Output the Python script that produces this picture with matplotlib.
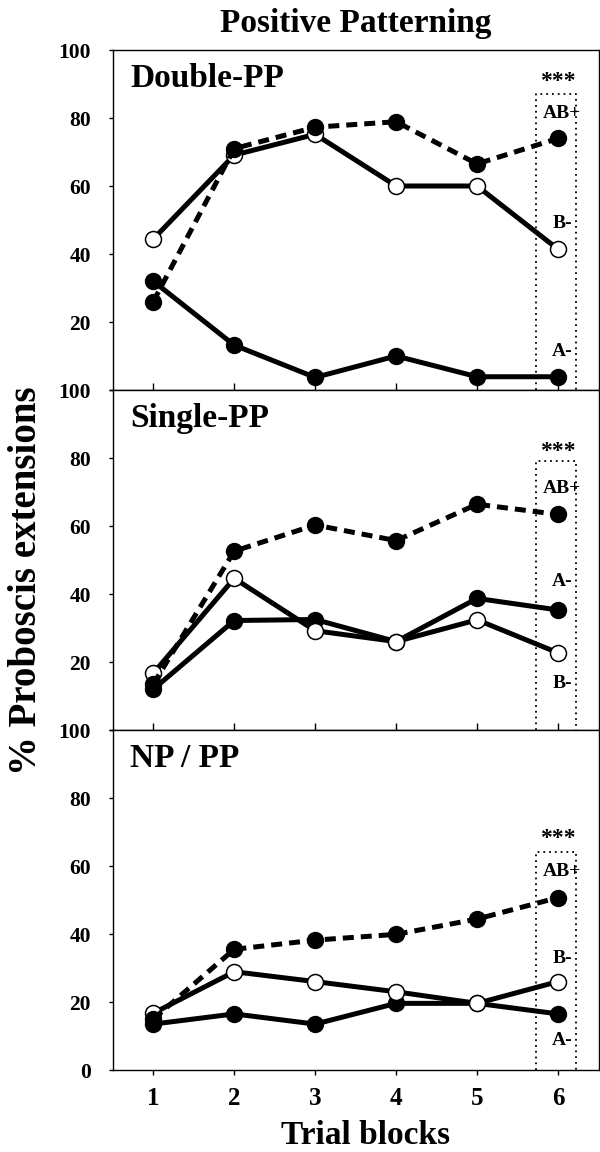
import matplotlib
matplotlib.use("Agg")
import matplotlib.pyplot as plt

plt.rcParams['font.family'] = ['Liberation Serif', 'DejaVu Serif']
plt.rcParams['font.weight'] = 'bold'

trials = [1, 2, 3, 4, 5, 6]
panels = ["Double-PP", "Single-PP", "NP / PP"]

# AB+ (filled, dashed), B- (open, solid), A- (filled, solid)
ab_plus = [
    [26, 71, 77.3, 78.9, 66.5, 74.0],
    [13.5, 52.6, 60.3, 55.7, 66.4, 63.4],
    [15, 35.5, 38.2, 39.9, 44.4, 50.7],
]
b_minus = [
    [44.4, 69.1, 75.2, 60, 60, 41.4],
    [16.7, 44.6, 29.2, 26, 32.4, 22.7],
    [16.7, 28.9, 26, 23, 19.6, 26],
]
a_minus = [
    [32, 13.2, 3.7, 10, 3.9, 3.9],
    [12, 32.2, 32.5, 26, 38.7, 35.3],
    [13.5, 16.5, 13.5, 19.6, 19.6, 16.5],
]

# label positions (y values) for annotations at block 6
stars_y = [90.7, 81.9, 68.1]
box_top = [87, 79, 64]
abp_label_y = [81.4, 71.1, 58.3]
bm_label_y = [49, 13.7, 32.8]
am_label_y = [11.3, 43.6, 8.8]

fig = plt.figure(figsize=(6, 11.52), dpi=100)
left, width = 0.188, 0.8095
h = 340 / 1152
bottoms = [1 - 390 / 1152, 1 - 730 / 1152, 1 - 1070 / 1152]

ms = 11.5
lw = 3.6
for i in range(3):
    ax = fig.add_axes([left, bottoms[i], width, h])
    ax.plot(trials, a_minus[i], color='black', lw=lw, marker='o', ms=ms,
            mfc='black', mec='black', mew=1, zorder=3)
    ax.plot(trials, b_minus[i], color='black', lw=lw, marker='o', ms=ms,
            mfc='white', mec='black', mew=1.1, zorder=4)
    ax.plot(trials, ab_plus[i], color='black', lw=lw, ls=(0, (2.2, 1.4)),
            marker='o', ms=ms, mfc='black', mec='black', mew=1, zorder=5)

    # dotted box around block 6
    bx0, bx1 = 5.73, 6.22
    ax.plot([bx0, bx0, bx1, bx1], [0, box_top[i], box_top[i], 0],
            color='black', lw=1.3, ls=(0, (1, 2.2)), zorder=2, clip_on=False)

    ax.text(6.0, stars_y[i], "***", ha='center', va='center', fontsize=17)
    ax.text(6.05, abp_label_y[i], "AB+", ha='center', va='center', fontsize=14)
    ax.text(6.05, bm_label_y[i], "B-", ha='center', va='center', fontsize=14)
    ax.text(6.05, am_label_y[i], "A-", ha='center', va='center', fontsize=14)

    ax.text(0.0356, 0.89, panels[i], transform=ax.transAxes, ha='left',
            va='baseline', fontsize=24)

    ax.set_xlim(0.5, 6.5)
    ax.set_ylim(0, 100)
    ax.set_xticks(trials)
    ax.set_yticks([0, 20, 40, 60, 80, 100])
    if i < 2:
        ax.set_yticklabels(['', '20', '40', '60', '80', '100'])
        ax.set_xticklabels([])
        ax.tick_params(axis='x', direction='in', length=5, width=1)
    else:
        ax.set_yticklabels(['0', '20', '40', '60', '80', '100'])
        ax.tick_params(axis='x', direction='out', length=3.5, width=1,
                       labelsize=18, pad=9)
    ax.tick_params(axis='y', direction='out', length=3.2, width=1,
                   labelsize=15.5, pad=12.5)
    for s in ax.spines.values():
        s.set_linewidth(1.0)

fig.text(0.5927, 1 - 31.7 / 1152, "Positive Patterning", ha='center',
         va='baseline', fontsize=24)
fig.text(0.61, 0.007, "Trial blocks", ha='center', va='baseline', fontsize=24)
fig.text(0.045, 0.4957, "% Proboscis extensions", ha='center', va='center',
         rotation=90, fontsize=28)

fig.savefig("out.png", dpi=100)
